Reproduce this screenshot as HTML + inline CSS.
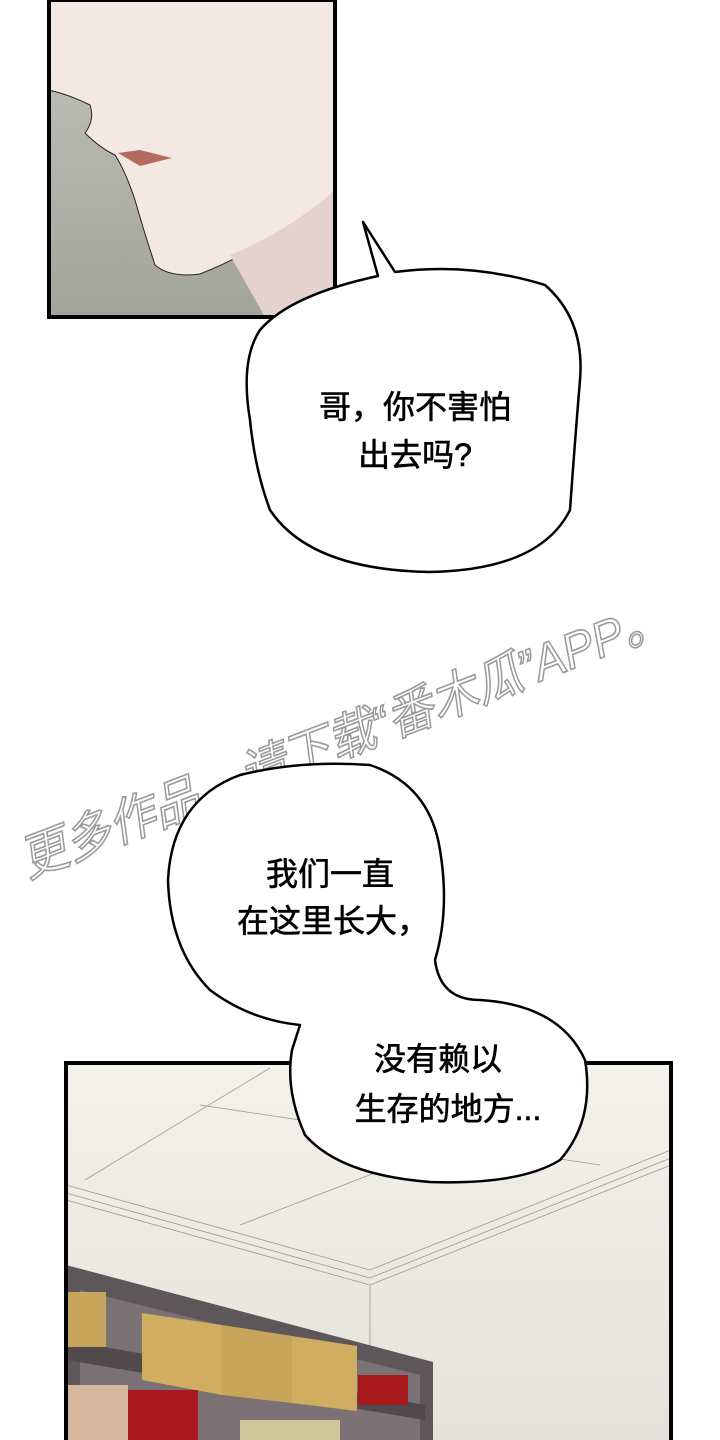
<!DOCTYPE html>
<html><head><meta charset="utf-8"><style>
html,body{margin:0;padding:0;background:#fff;}
svg{display:block;}
text{font-family:"Liberation Sans","Noto Sans CJK SC",sans-serif;}
</style></head><body>
<svg width="720" height="1440" viewBox="0 0 720 1440" xmlns="http://www.w3.org/2000/svg">
<defs>
<linearGradient id="gr" x1="0" y1="0" x2="0" y2="1"><stop offset="0" stop-color="#b9bab3"/><stop offset="1" stop-color="#a3a49c"/></linearGradient>
<linearGradient id="wall" x1="0" y1="0" x2="0" y2="1"><stop offset="0" stop-color="#f3f1ea"/><stop offset="1" stop-color="#e4e2db"/></linearGradient>
</defs>
<rect x="49" y="0" width="286" height="317" fill="#f4e9e2"/>
<path d="M49 90 Q70 95 90 105 Q95 120 85 133 Q100 148 115 155 Q125 170 135 200 Q145 235 155 265 Q170 278 200 274 Q230 262 250 250 L290 317 L49 317 Z" fill="url(#gr)" stroke="#222" stroke-width="1"/>
<path d="M230 255 Q290 230 335 190 L335 317 L265 317 Z" fill="#e6d2cd"/>
<path d="M118 153 L140 150 L172 158 L140 166 Z" fill="#b36b60"/>
<rect x="49" y="0" width="286" height="317" fill="none" stroke="#000" stroke-width="4"/>
<path d="M363 222 L395 272 Q470 262 545 285 Q585 320 580 380 Q575 440 570 510 Q540 570 430 572 Q310 570 270 510 Q255 470 250 420 Q240 360 260 330 Q290 295 378 276 Z" fill="#fff" stroke="#000" stroke-width="2.5" stroke-linejoin="round"/>
<text x="415" y="418" font-size="32" text-anchor="middle" stroke="#000" stroke-width="0.6">哥，你不害怕</text>
<text x="415" y="466" font-size="32" text-anchor="middle" stroke="#000" stroke-width="0.6">出去吗?</text>
<text x="28" y="878" font-size="50" fill="#fff" stroke="#999" stroke-width="1.6" transform="rotate(-21 28 878)" font-style="italic" textLength="690" lengthAdjust="spacingAndGlyphs">更多作品，请下载“番木瓜”APP。</text>
<rect x="66" y="1063" width="605" height="380" fill="url(#wall)"/>
<g stroke="#9a9890" stroke-width="0.8" fill="none">
<path d="M66 1185 L370 1270 L671 1150"/><path d="M66 1193 L370 1278 L671 1158"/><path d="M66 1200 L370 1285 L671 1165"/>
<path d="M85 1180 L270 1068"/><path d="M200 1105 L600 1165"/><path d="M240 1225 L460 1140"/>
<path d="M370 1285 L370 1360"/>
</g>
<path d="M66 1265 L433 1362 L433 1440 L66 1440 Z" fill="#5e575a"/>
<path d="M80 1290 L420 1375 L420 1440 L80 1440 Z" fill="#7a7275"/>
<path d="M66 1340 L425 1405 L425 1420 L66 1360 Z" fill="#504a4c"/>
<rect x="66" y="1292" width="40" height="55" fill="#c9a55c"/>
<path d="M142 1313 L222 1325 L222 1395 L142 1380 Z" fill="#d1ad62"/>
<path d="M222 1325 L292 1336 L292 1403 L222 1395 Z" fill="#c9a55c"/>
<path d="M292 1336 L357 1346 L357 1411 L292 1403 Z" fill="#d1ad62"/>
<rect x="358" y="1375" width="50" height="30" fill="#a8191d"/>
<rect x="68" y="1385" width="60" height="55" fill="#d8b79f"/>
<rect x="128" y="1390" width="70" height="50" fill="#a8191d"/>
<rect x="240" y="1420" width="100" height="20" fill="#cfc79a"/>
<rect x="66" y="1063" width="605" height="380" fill="none" stroke="#000" stroke-width="4"/>
<path d="M300 1025 Q250 1020 210 990 Q170 950 168 880 Q172 800 240 775 Q300 760 370 765 Q430 785 440 850 Q450 910 435 960 Q440 1000 480 1000 Q560 1005 585 1060 Q595 1120 560 1160 Q520 1185 430 1182 Q340 1175 305 1135 Q285 1090 292 1050 Z" fill="#fff" stroke="#000" stroke-width="2.5" stroke-linejoin="round"/>
<text x="330" y="885" font-size="32" text-anchor="middle" stroke="#000" stroke-width="0.6">我们一直</text>
<text x="333" y="932" font-size="32" text-anchor="middle" stroke="#000" stroke-width="0.6">在这里长大，</text>
<text x="438" y="1070" font-size="32" text-anchor="middle" stroke="#000" stroke-width="0.6">没有赖以</text>
<text x="448" y="1120" font-size="32" text-anchor="middle" stroke="#000" stroke-width="0.6">生存的地方...</text>
</svg>
</body></html>
